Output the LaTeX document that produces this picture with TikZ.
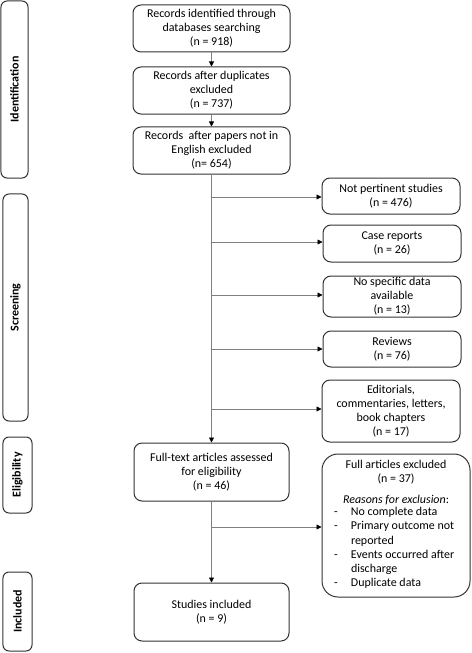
\documentclass[tikz,border=0pt]{standalone}
\usepackage{fontspec}
\setmainfont{Carlito}
\usetikzlibrary{arrows.meta}
\begin{document}
\begin{tikzpicture}[x=1bp,y=-1bp,
 box/.style={draw=black!80, line width=1bp, rounded corners=8bp, align=center,
   font=\fontsize{12}{14}\selectfont, inner sep=0pt},
 side/.style={draw=black!80, line width=1bp, rounded corners=6bp, inner sep=0pt,
   rotate=90, font=\fontsize{12}{14}\selectfont\bfseries},
 conn/.style={draw=black!50, line width=0.8bp,
   -{Triangle[length=5bp,width=5bp,color=black]}}]
\useasboundingbox (0,0) rectangle (472,653);
% side labels
\node[side, minimum width=177bp, minimum height=27bp] (sid) at (14.5,89.5) {Identification};
\node[side, minimum width=227bp, minimum height=25bp] (ssc) at (15.5,307.5) {Screening};
\node[side, minimum width=76bp, minimum height=29bp] (sel) at (17.5,475) {Eligibility};
\node[side, minimum width=79bp, minimum height=29bp] (sin) at (17.5,611.5) {Included};
% main column
\node[box, minimum width=157bp, minimum height=47bp] (b1) at (211.5,28.5)
  {Records identified through\\databases searching\\(n = 918)};
\node[box, minimum width=157bp, minimum height=47bp] (b2) at (211.5,90.5)
  {Records after duplicates\\excluded\\(n = 737)};
\node[box, minimum width=157bp, minimum height=47bp] (b3) at (211.5,150.5)
  {Records\ \ after papers not in\\English excluded\\(n= 654)};
\node[box, minimum width=155bp, minimum height=58bp] (ft) at (211.5,472)
  {Full-text articles assessed\\for eligibility\\(n = 46)};
\node[box, minimum width=155bp, minimum height=58bp] (si) at (211.5,612)
  {Studies included\\(n = 9)};
% right column
\node[box, minimum width=138bp, minimum height=36bp] (np) at (391,196)
  {Not pertinent studies\\(n = 476)};
\node[box, minimum width=138bp, minimum height=37bp] (cr) at (392,243.5)
  {Case reports\\(n = 26)};
\node[box, minimum width=138bp, minimum height=41bp] (ns) at (392,296.5)
  {No specific data\\available\\(n = 13)};
\node[box, minimum width=138bp, minimum height=36bp] (rv) at (392,349)
  {Reviews\\(n = 76)};
\node[box, minimum width=138bp, minimum height=62bp] (ed) at (391,411)
  {Editorials,\\commentaries, letters,\\book chapters\\(n = 17)};
\node[box, rounded corners=16bp, minimum width=148bp, minimum height=143bp] (fe) at (396,525.5)
  {\begin{minipage}{128bp}\fontsize{12}{14.2}\selectfont
   \centering Full articles excluded\\(n = 37)\par\vspace{6.5bp}
   \textit{Reasons for exclusion}:\par
   \raggedright\renewcommand{\arraystretch}{1}%
   \begin{tabular}{@{\hspace{2bp}}p{17bp}@{}l@{}}
   - & No complete data\\
   - & Primary outcome not\\
     & reported\\
   - & Events occurred after\\
     & discharge\\
   - & Duplicate data
   \end{tabular}\par
   \end{minipage}};
% junctions on the main vertical line
\coordinate (j1) at (212,197);
\coordinate (j2) at (212,242);
\coordinate (j3) at (212,295);
\coordinate (j4) at (212,349);
\coordinate (j5) at (212,409);
\coordinate (j6) at (212,527);
% connectors
\draw[conn] (b1.south) -- (b2.north);
\draw[conn] (b2.south) -- (b3.north);
\draw[conn] (b3.south) -- (ft.north);
\draw[conn] (ft.south) -- (si.north);
\draw[conn] (j1) -- (j1 -| np.west);
\draw[conn] (j2) -- (j2 -| cr.west);
\draw[conn] (j3) -- (j3 -| ns.west);
\draw[conn] (j4) -- (j4 -| rv.west);
\draw[conn] (j5) -- (j5 -| ed.west);
\draw[conn] (j6) -- (j6 -| fe.west);
\end{tikzpicture}
\end{document}
